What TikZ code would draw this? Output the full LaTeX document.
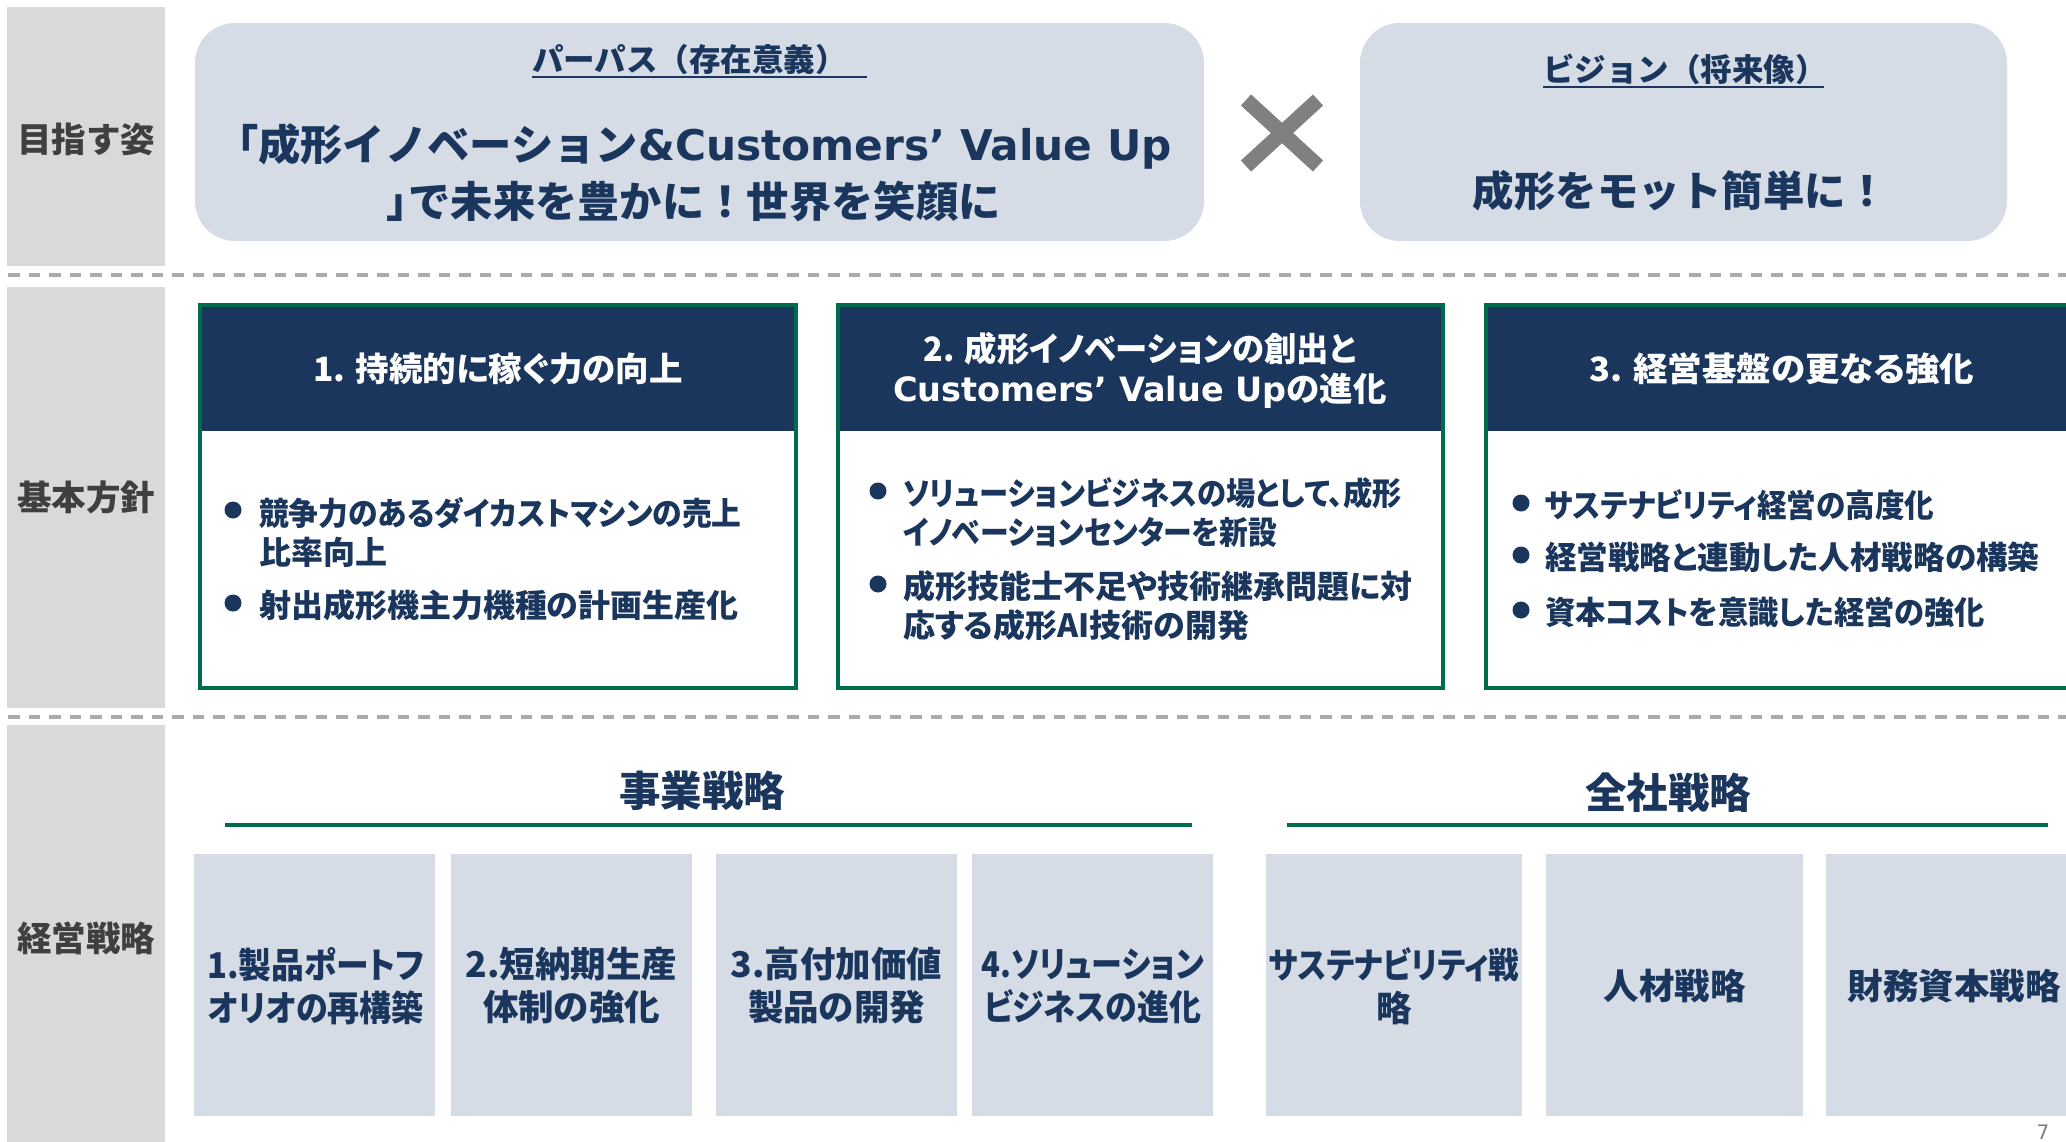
\documentclass[tikz,border=0pt]{standalone}
\usepackage{fontspec}
\usepackage{graphicx}
\newfontfamily\jp{Noto Sans CJK JP}
\newfontfamily\jpp{Noto Sans CJK JP}[RawFeature=+palt]
\newfontfamily\lat{DejaVu Sans}
\newcommand{\hsq}[2]{\scalebox{#1}[1]{#2}}
\definecolor{navy}{HTML}{1B365D}
\definecolor{pale}{HTML}{D6DCE5}
\definecolor{colgray}{HTML}{D9D9D9}
\definecolor{lblgray}{HTML}{3F3F3F}
\definecolor{grn}{HTML}{006B4D}
\definecolor{dashgray}{HTML}{ABABAB}
\definecolor{xgray}{HTML}{808080}
\tikzset{
  every node/.style={inner sep=0pt, outer sep=0pt},
  colbox/.style={fill=colgray, draw=none, anchor=north west},
  palebox/.style={fill=pale, draw=none, anchor=north west},
  pillbox/.style={fill=pale, draw=none, rounded corners=40pt, anchor=north west},
  polbox/.style={draw=grn, line width=4pt, fill=white, anchor=north west},
  headfill/.style={fill=navy, draw=none, anchor=north west},
  sidelbl/.style={font=\jp\bfseries\fontsize{34.5}{40}\selectfont, text=lblgray},
  headtxt/.style={font=\jp\bfseries\fontsize{31.5}{36}\selectfont, text=navy},
  bigtxt/.style={font=\jp\bfseries\fontsize{42.3}{57}\selectfont, text=navy, align=center},
  vistxt/.style={font=\jp\bfseries\fontsize{41.5}{48}\selectfont, text=navy},
  bartxt/.style={font=\jpp\bfseries\fontsize{33.5}{40}\selectfont, text=white, align=center},
  itemtxt/.style={font=\jpp\bfseries\fontsize{32}{39}\selectfont, text=navy, align=left, anchor=north west},
  dot/.style={circle, fill=navy, minimum size=17pt},
  sectxt/.style={font=\jp\bfseries\fontsize{41.5}{48}\selectfont, text=navy, anchor=base},
  celltxt/.style={font=\jpp\bfseries\fontsize{35.5}{43}\selectfont, text=navy, align=center},
  sepline/.style={draw=dashgray, line width=3.5pt, dash pattern=on 11.7pt off 8.8pt},
  ulin/.style={draw=navy, line width=2.5pt},
  grule/.style={draw=grn, line width=4.5pt},
  xmk/.style={draw=xgray, line width=15pt, line cap=butt},
  pgnum/.style={font=\lat\fontsize{20}{24}\selectfont, text=xgray}
}
\begin{document}
\begin{tikzpicture}[x=1pt, y=-1pt]
\useasboundingbox (0,0) rectangle (2066,1142);
\clip (0,0) rectangle (2066,1142);
\fill[white] (0,0) rectangle (2066,1142);

% left column
\node[colbox, minimum width=158, minimum height=259] (c1) at (7,7) {};
\node[colbox, minimum width=158, minimum height=421] (c2) at (7,287) {};
\node[colbox, minimum width=158, minimum height=425] (c3) at (7,725) {};
\node[sidelbl] (l1) at (86,139) {目指す姿};
\node[sidelbl] (l2) at (86,497) {基本方針};
\node[sidelbl] (l3) at (86,938) {経営戦略};

% separators
\draw[sepline] (8,275) -- (2066,275);
\draw[sepline] (8,717) -- (2066,717);

% purpose / vision
\node[pillbox, minimum width=1009, minimum height=218] (pp) at (195,23) {};
\node[pillbox, minimum width=647, minimum height=218] (vs) at (1360,23) {};
\node[headtxt, anchor=base west] (pph) at (532,72) {パーパス（存在意義）};
\draw[ulin] ([yshift=-5pt]pph.base west) -- ++(335,0);
\node[headtxt, anchor=base west] (vsh) at (1543,82) {ビジョン（将来像）};
\draw[ulin] ([yshift=-5pt]vsh.base west) -- ++(281,0);
\node[bigtxt] (ppt) at (694,173) {「成形イノベーション{\lat\bfseries\&Customers’ Value Up}\\{\jpp 」}で未来を豊かに！世界を笑顔に};
\node[vistxt, anchor=base] (vst) at (1680,207) {成形をモット簡単に！};
\draw[xmk] (1246,100) -- (1318,166);
\draw[xmk] (1318,100) -- (1246,166);

% basic policy boxes
\node[polbox, minimum width=596, minimum height=383] (b1) at (200,305) {};
\node[polbox, minimum width=605, minimum height=383] (b2) at (838,305) {};
\node[polbox, minimum width=596, minimum height=383] (b3) at (1486,305) {};
\node[headfill, minimum width=592, minimum height=124] (h1) at (202,307) {};
\node[headfill, minimum width=601, minimum height=124] (h2) at (840,307) {};
\node[headfill, minimum width=592, minimum height=124] (h3) at (1488,307) {};
\node[bartxt, anchor=base] (t1) at (498,381) {1. 持続的に稼ぐ力の向上};
\node[bartxt] (t2) at (1140,370) {\hsq{0.965}{2. 成形イノベーションの創出と}\\{\lat\bfseries Customers’ Value Up}の進化};
\node[bartxt, anchor=base] (t3) at (1782,381) {\hsq{1.03}{3. 経営基盤の更なる強化}};

\node[dot] (d11) at (233,510) {};
\node[itemtxt] (i11) at (259,497) {\hsq{0.93}{競争力のあるダイカストマシンの売上}\\比率向上};
\node[dot] (d12) at (233,603) {};
\node[itemtxt] (i12) at (259,590) {射出成形機主力機種の計画生産化};

\node[dot] (d21) at (878,491) {};
\node[itemtxt] (i21) at (903,478) {\hsq{0.915}{ソリューションビジネスの場として、成形}\\\hsq{0.9}{イノベーションセンターを新設}};
\node[dot] (d22) at (878,584) {};
\node[itemtxt] (i22) at (903,571) {成形技能士不足や技術継承問題に対\\応する成形AI技術の開発};

\node[dot] (d31) at (1521,503) {};
\node[itemtxt] (i31) at (1545,490) {\hsq{0.925}{サステナビリティ経営の高度化}};
\node[dot] (d32) at (1521,555) {};
\node[itemtxt] (i32) at (1545,542) {\hsq{0.987}{経営戦略と連動した人材戦略の構築}};
\node[dot] (d33) at (1521,610) {};
\node[itemtxt] (i33) at (1545,597) {\hsq{0.946}{資本コストを意識した経営の強化}};

% strategy
\node[sectxt] (s1) at (702,806) {事業戦略};
\node[sectxt] (s2) at (1668,808) {全社戦略};
\draw[grule] (225,825) -- (1192,825);
\draw[grule] (1287,825) -- (2048,825);

\node[palebox, minimum width=241, minimum height=262] (ba) at (194,854) {};
\node[palebox, minimum width=241, minimum height=262] (bb) at (451,854) {};
\node[palebox, minimum width=241, minimum height=262] (bc) at (716,854) {};
\node[palebox, minimum width=241, minimum height=262] (bd) at (972,854) {};
\node[palebox, minimum width=256, minimum height=262] (be) at (1266,854) {};
\node[palebox, minimum width=257, minimum height=262] (bf) at (1546,854) {};
\node[palebox, minimum width=256, minimum height=262] (bg) at (1826,854) {};
\node[celltxt] (ta) at (316,986) {\hsq{0.924}{1.製品ポートフ}\\\hsq{0.902}{オリオの再構築}};
\node[celltxt] (tb) at (571.5,986) {2.短納期生産\\体制の強化};
\node[celltxt] (tc) at (836.5,986) {3.高付加価値\\製品の開発};
\node[celltxt] (td) at (1092.5,986) {\hsq{0.874}{4.ソリューション}\\\hsq{0.9}{ビジネスの進化}};
\node[celltxt] (te) at (1394,986) {\hsq{0.862}{サステナビリティ戦}\\略};
\node[celltxt] (tf) at (1674.5,986) {人材戦略};
\node[celltxt] (tg) at (1954,986) {財務資本戦略};

\node[pgnum, anchor=base] (pg) at (2043,1139) {7};
\end{tikzpicture}
\end{document}
